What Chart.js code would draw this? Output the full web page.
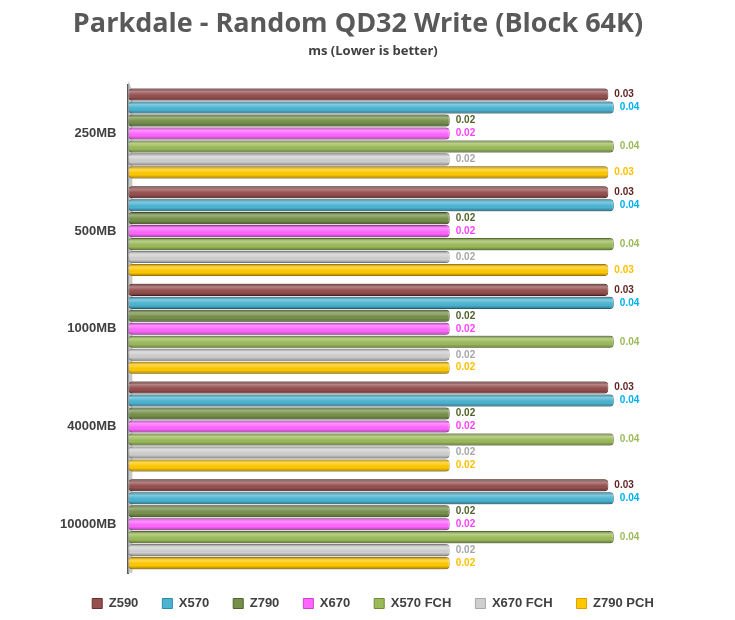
<!DOCTYPE html>
<html>
<head>
<meta charset="utf-8">
<script src="https://cdn.jsdelivr.net/npm/chart.js@4"></script>
<style>
html,body{margin:0;padding:0;background:#fff;}
#wrap{width:735px;height:620px;}
</style>
</head>
<body>
<div id="wrap"><canvas id="c" width="735" height="620"></canvas></div>
<script>
const titleText = 'Parkdale - Random QD32 Write (Block 64K)';
const subtitleText = 'ms (Lower is better)';
const categories = ['250MB', '500MB', '1000MB', '4000MB', '10000MB'];
const seriesNames = ['Z590', 'X570', 'Z790', 'X670', 'X570 FCH', 'X670 FCH', 'Z790 PCH'];
const z590    = [0.0348, 0.0348, 0.0348, 0.0348, 0.0348];
const x570    = [0.0352, 0.0352, 0.0352, 0.0352, 0.0352];
const z790    = [0.0233, 0.0233, 0.0233, 0.0233, 0.0233];
const x670    = [0.0233, 0.0233, 0.0233, 0.0233, 0.0233];
const x570fch = [0.0352, 0.0352, 0.0352, 0.0352, 0.0352];
const x670fch = [0.0233, 0.0233, 0.0233, 0.0233, 0.0233];
const z790pch = [0.0348, 0.0348, 0.0233, 0.0233, 0.0233];

const fills   = ['#954f4f', '#4bb4d2', '#76904a', '#ff66ff', '#9bbb59', '#cfcfcf', '#ffc800'];
const borders = ['#6b2e2e', '#2f8aa6', '#4f6228', '#d040d0', '#6f8a38', '#a8a8a8', '#d9a000'];
const labelColors = ['#632523', '#00b0f0', '#4f6228', '#ff40ff', '#9bbb59', '#a6a6a6', '#ffc000'];
const seriesValues = [z590, x570, z790, x670, x570fch, x670fch, z790pch];

const datasets = seriesNames.map((n, i) => ({
  label: n,
  data: seriesValues[i],
  backgroundColor: fills[i],
  borderColor: borders[i],
  borderWidth: 1,
  borderRadius: 4,
  borderSkipped: false,
  barPercentage: 0.93,
  categoryPercentage: 0.93
}));

const cylinder = {
  id: 'cylinder',
  afterDatasetsDraw(chart) {
    const ctx = chart.ctx;
    chart.data.datasets.forEach((ds, di) => {
      const meta = chart.getDatasetMeta(di);
      meta.data.forEach((el, j) => {
        const p = el.getProps(['x', 'y', 'base', 'height'], true);
        const top = p.y - p.height / 2, h = p.height;
        const left = p.base, w = p.x - p.base;
        const g = ctx.createLinearGradient(0, top, 0, top + h);
        g.addColorStop(0, 'rgba(0,0,0,0.30)');
        g.addColorStop(0.25, 'rgba(255,255,255,0.30)');
        g.addColorStop(0.45, 'rgba(255,255,255,0.10)');
        g.addColorStop(0.7, 'rgba(0,0,0,0.0)');
        g.addColorStop(1, 'rgba(0,0,0,0.35)');
        ctx.save();
        ctx.fillStyle = g;
        ctx.beginPath();
        if (ctx.roundRect) ctx.roundRect(left, top, w, h, 4); else ctx.rect(left, top, w, h);
        ctx.fill();
        ctx.restore();
        ctx.save();
        ctx.font = 'bold 10px "Liberation Sans", Arial, sans-serif';
        ctx.fillStyle = labelColors[di];
        ctx.textAlign = 'left';
        ctx.textBaseline = 'middle';
        ctx.fillText(ds.data[j].toFixed(2), p.x + 6, p.y);
        ctx.restore();
      });
    });
  }
};

const wall = {
  id: 'wall',
  beforeDatasetsDraw(chart) {
    const a = chart.chartArea, ctx = chart.ctx;
    ctx.save();
    ctx.fillStyle = '#c8c8c8';
    ctx.beginPath();
    ctx.moveTo(a.left, a.top - 4);
    ctx.lineTo(a.left + 4, a.top + 6);
    ctx.lineTo(a.left + 4, a.bottom);
    ctx.lineTo(a.left, a.bottom);
    ctx.closePath();
    ctx.fill();
    ctx.restore();
  }
};

const mainTitle = {
  id: 'mainTitle',
  afterDraw(chart) {
    const ctx = chart.ctx;
    ctx.save();
    ctx.font = 'bold 27px "Open Sans", sans-serif';
    ctx.fillStyle = '#595959';
    ctx.textAlign = 'center';
    ctx.textBaseline = 'middle';
    ctx.fillText(titleText, 358, 24);
    ctx.restore();
  }
};

new Chart(document.getElementById('c'), {
  type: 'bar',
  data: { labels: categories, datasets },
  plugins: [wall, cylinder, mainTitle],
  options: {
    indexAxis: 'y',
    responsive: false,
    animation: false,
    layout: { padding: { left: 48, right: 37, top: 0, bottom: 0 } },
    scales: {
      x: { display: false, min: 0, max: 0.0413 },
      y: {
        grid: { display: false, drawTicks: false },
        border: { display: true, color: '#595959', width: 2 },
        ticks: { color: '#404040', padding: 12, font: { family: '"Liberation Sans", Arial, sans-serif', size: 13, weight: 'bold' } }
      }
    },
    plugins: {
      title: { display: false },
      subtitle: {
        display: true,
        text: subtitleText,
        color: '#404040',
        font: { family: '"Open Sans", sans-serif', size: 13, weight: 'bold' },
        padding: { top: 43, bottom: 26 }
      },
      legend: {
        position: 'bottom',
        labels: {
          boxWidth: 10, boxHeight: 10, padding: 24,
          color: '#404040',
          font: { family: '"Liberation Sans", Arial, sans-serif', size: 13, weight: 'bold' }
        }
      },
      tooltip: { enabled: false }
    }
  }
});
</script>
</body>
</html>
